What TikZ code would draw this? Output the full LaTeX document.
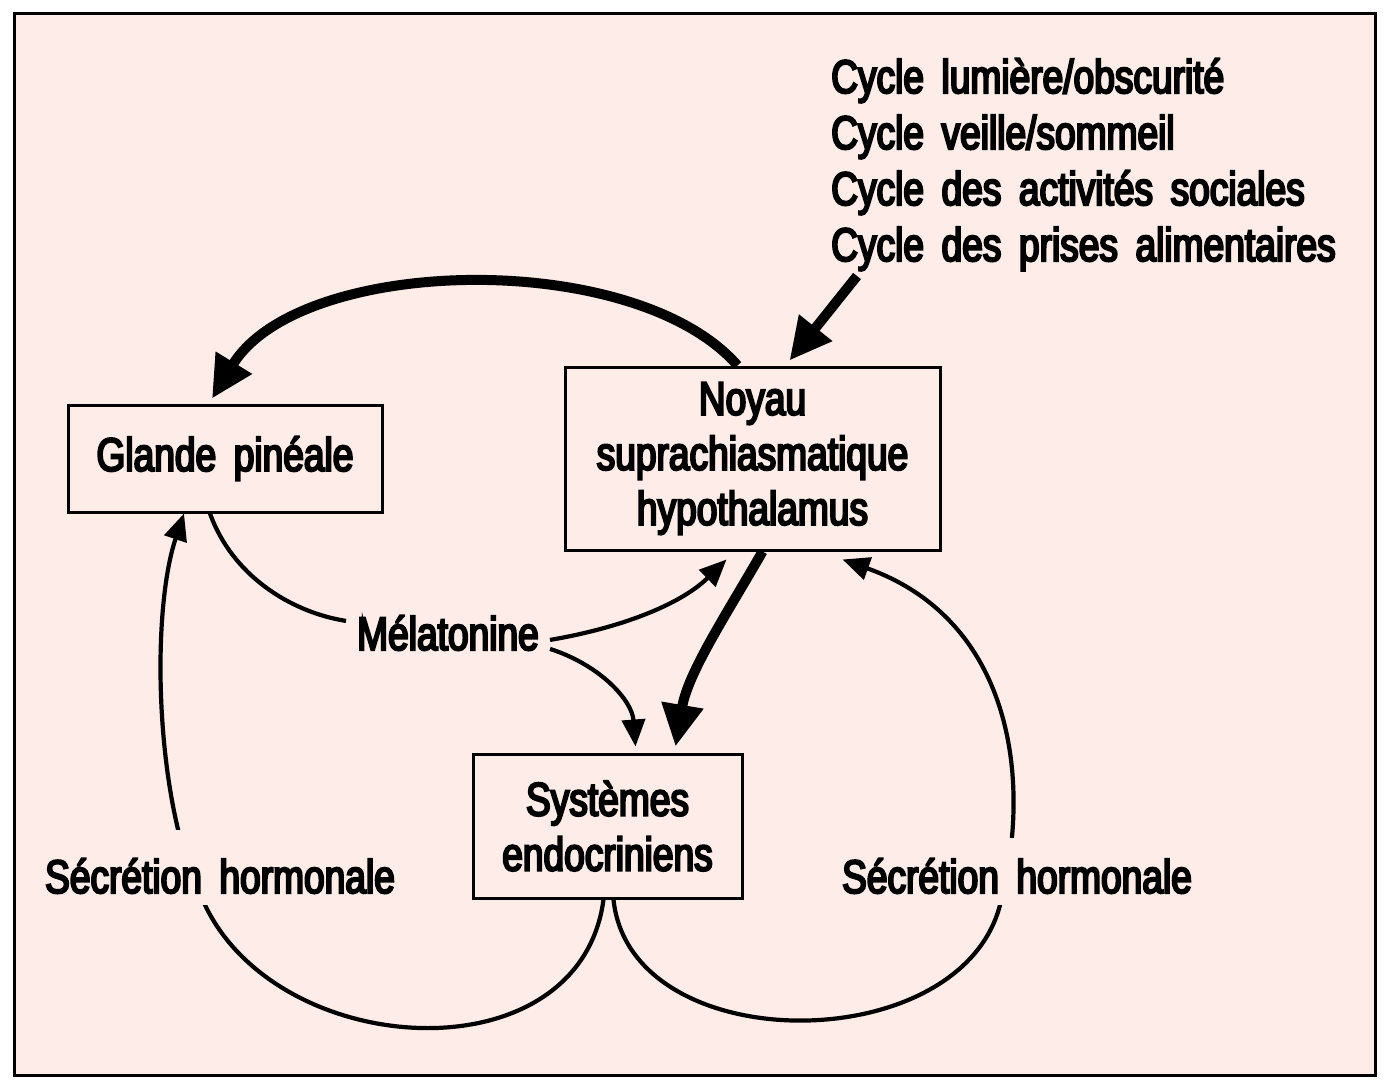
\documentclass[tikz,border=0pt]{standalone}
\usepackage{fontspec}
\setmainfont{Liberation Sans}[FakeStretch=0.79,FakeBold=4.5,WordSpace=1.7]
\usetikzlibrary{arrows.meta}
\definecolor{bgpink}{RGB}{253,236,232}
\begin{document}
\begin{tikzpicture}[x=1pt,y=-1pt,
  font=\fontsize{47}{55}\selectfont,
  box/.style={draw, line width=3pt, inner sep=0pt, align=center},
  lbl/.style={inner sep=0pt},
  mask/.style={fill=bgpink, inner xsep=4pt, inner ysep=12pt, text depth=0pt},
  bigarrow/.style={line width=10pt, -{Triangle[length=42pt,width=40pt]}},
  thinarrow/.style={line width=4.2pt, -{Triangle[length=27pt,width=23pt]}},
  thinline/.style={line width=4.2pt}]
\useasboundingbox (0,0) rectangle (1389,1084);
\draw[line width=3pt, fill=bgpink] (14,13) rectangle (1375,1075);

% boxes
\node[box, minimum width=314pt, minimum height=107pt] (glande) at (225,458.5) {Glande pinéale};
\node[box, minimum width=375pt, minimum height=183pt] (noyau) at (752.5,458.5) {Noyau\\suprachiasmatique\\hypothalamus};
\node[box, minimum width=269pt, minimum height=144pt] (syst) at (607.5,826) {Systèmes\\endocriniens};

% cycle list
\node[lbl, anchor=base west] (c1) at (831,93) {Cycle lumière/obscurité};
\node[lbl, anchor=base west] (c2) at (831,149) {Cycle veille/sommeil};
\node[lbl, anchor=base west] (c3) at (831,205) {Cycle des activités sociales};
\node[lbl, anchor=base west] (c4) at (831,261) {Cycle des prises alimentaires};
\coordinate (cin) at (857,276);

% melatonine
\node[anchor=base, inner sep=3pt] (mel) at (448,650) {Mélatonine};

% thick arrows
\draw[bigarrow] ([xshift=-15pt]noyau.north) .. controls (635,248) and (300,255) .. ([xshift=-13pt,yshift=5pt]glande.north);
\draw[bigarrow] (cin) -- ([xshift=37pt,yshift=5pt]noyau.north);
\draw[bigarrow] ([xshift=10pt]noyau.south) .. controls (728,612) and (688,672) .. ([xshift=68pt,yshift=6pt]syst.north);

% melatonine links
\draw[thinline] ([xshift=-15pt]glande.south) .. controls (232,575) and (290,612) .. ([xshift=-8pt,yshift=12pt]mel.west);
\draw[thinarrow] ([xshift=8pt,yshift=-7pt]mel.east) .. controls (620,628) and (680,605) .. ([xshift=163pt,yshift=-8pt]noyau.south west);
\draw[thinarrow] ([xshift=8pt,yshift=-16pt]mel.east) .. controls (600,665) and (632,700) .. ([xshift=28pt,yshift=6pt]syst.north);

% hormonal loops
\draw[thinarrow] ([xshift=-4pt]syst.south) .. controls (580,1078) and (280,1062) .. (205,905)
   .. controls (155,812) and (150,615) .. ([xshift=-41pt]glande.south);
\draw[thinarrow] ([xshift=6pt]syst.south) .. controls (630,1060) and (960,1060) .. (1000,905)
   .. controls (1033,780) and (1012,620) .. ([xshift=90pt,yshift=-8pt]noyau.south);

% labels masking the loops
\node[mask, anchor=base, text height=51pt] (sl) at (220,893) {Sécrétion hormonale};
\node[mask, anchor=base, text height=43pt] (sr) at (1017,893) {Sécrétion hormonale};
\end{tikzpicture}
\end{document}
